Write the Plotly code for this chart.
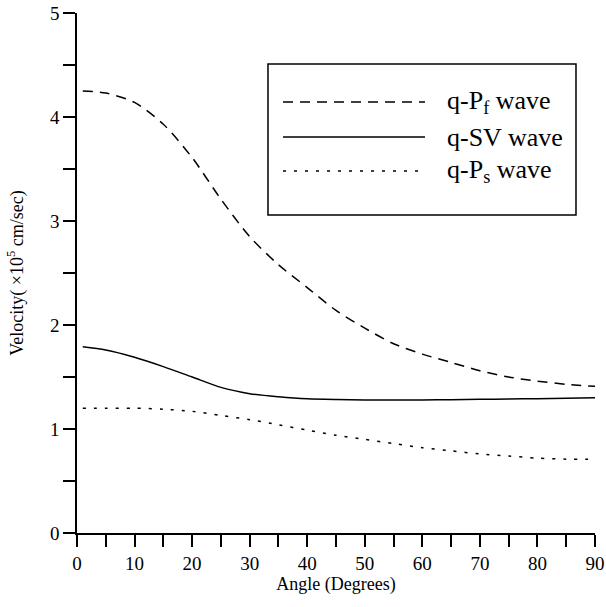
import plotly.graph_objects as go

angle = [1, 5, 10, 15, 20, 25, 30, 35, 40, 45, 50, 55, 60, 65, 70, 75, 80, 85, 90]
qpf = [4.25, 4.23, 4.14, 3.93, 3.61, 3.21, 2.85, 2.58, 2.36, 2.14, 1.97, 1.82, 1.72, 1.64, 1.56, 1.50, 1.46, 1.43, 1.41]
qsv = [1.79, 1.76, 1.69, 1.60, 1.50, 1.40, 1.34, 1.31, 1.29, 1.283, 1.28, 1.28, 1.28, 1.282, 1.285, 1.288, 1.292, 1.296, 1.30]
qps = [1.20, 1.20, 1.20, 1.19, 1.17, 1.13, 1.09, 1.04, 0.99, 0.94, 0.90, 0.86, 0.82, 0.79, 0.76, 0.74, 0.72, 0.71, 0.71]

names = ["q-P<sub>f</sub> wave", "q-SV wave", "q-P<sub>s</sub> wave"]
dashes = ["10px,7px", "solid", "3px,8px"]
series = [qpf, qsv, qps]

FONT = "Liberation Serif, Times New Roman, serif"

fig = go.Figure()
for s, n, d in zip(series, names, dashes):
    fig.add_trace(go.Scatter(x=angle, y=s, mode="lines", name=n,
                             line=dict(color="black", width=1.5, dash=d, shape="spline", smoothing=0.8),
                             showlegend=False))

# manual legend (box, samples, labels) in paper coords
bx0, bx1, by0, by1 = 0.3687, 0.9633, 0.6115, 0.9019
fig.add_shape(type="rect", xref="paper", yref="paper", x0=bx0, x1=bx1, y0=by0, y1=by1,
              line=dict(color="black", width=1.5), fillcolor="white", layer="above")
rows = [0.8288, 0.7615, 0.6962]
for yy, n, d in zip(rows, names, dashes):
    fig.add_shape(type="line", xref="paper", yref="paper", x0=0.3977, x1=0.6718, y0=yy, y1=yy,
                  line=dict(color="black", width=1.5, dash=d), layer="above")
    fig.add_annotation(xref="paper", yref="paper", x=0.7104, y=yy, text=n, showarrow=False,
                       xanchor="left", yanchor="middle", font=dict(family=FONT, size=26, color="black"))

axis_common = dict(showline=True, linecolor="black", linewidth=1.5, ticks="outside",
                   ticklen=12, tickwidth=1.5, tickcolor="black", showgrid=False, zeroline=False,
                   automargin=False, ticklabeloverflow="allow",
                   tickfont=dict(family=FONT, size=19, color="black"))

fig.update_xaxes(range=[0, 90], dtick=10, tick0=0,
                 minor=dict(dtick=5, ticks="outside", ticklen=12, tickwidth=1.5, tickcolor="black"),
                 title=dict(text="Angle (Degrees)", font=dict(family=FONT, size=18, color="black"), standoff=5),
                 **axis_common)
fig.update_yaxes(range=[0, 5], dtick=1, tick0=0,
                 minor=dict(dtick=0.5, ticks="outside", ticklen=12, tickwidth=1.5, tickcolor="black"),
                 title=dict(text="Velocity( ×10<sup>5</sup> cm/sec)", font=dict(family=FONT, size=18, color="black"), standoff=22),
                 **axis_common)

fig.update_layout(width=606, height=607, margin=dict(l=77, r=11, t=13, b=74),
                  plot_bgcolor="white", paper_bgcolor="white", showlegend=False)

fig.write_html("out.html", config={"displayModeBar": False},
               post_script="document.body.style.margin='0';document.body.style.overflow='hidden';")
